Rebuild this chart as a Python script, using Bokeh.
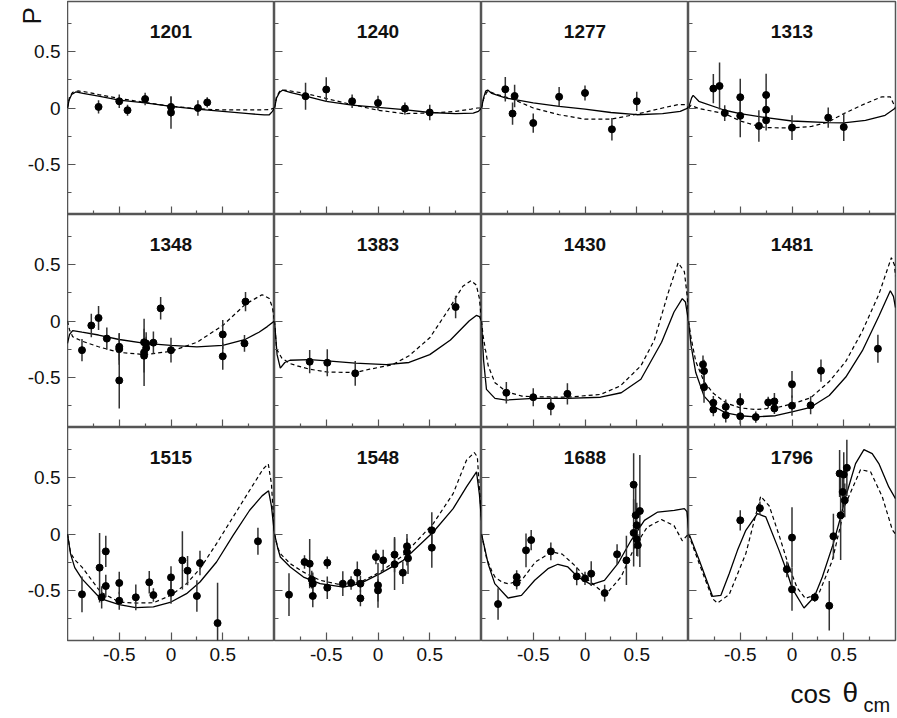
import math
from bokeh.plotting import figure
from bokeh.layouts import gridplot, column
from bokeh.models import FixedTicker, Label, ColumnDataSource, CustomJSTickFormatter, Range1d
from bokeh.core.properties import value
from bokeh.embed import file_html
from bokeh.resources import INLINE

FONT = "Liberation Sans"
GREY = "#555555"

# ---------------- data ----------------
ENERGIES = ["1201", "1240", "1277", "1313", "1348", "1383", "1430", "1481",
            "1515", "1548", "1688", "1796"]
TICKS = [-0.5, 0.0, 0.5]
MINOR_TICKS = [-0.75, -0.25, 0.25, 0.75]
Y_TITLE = "P"
X_TITLE_A = "cos"
X_TITLE_B = "θ"
X_TITLE_SUB = "cm"

# 1201
x_1201 = [-0.70, -0.50, -0.42, -0.25, 0.0, 0.0, 0.26, 0.35]
y_1201 = [0.01, 0.06, -0.02, 0.08, 0.01, -0.04, 0.00, 0.05]
e_1201 = [0.06, 0.06, 0.05, 0.055, 0.09, 0.144, 0.07, 0.045]
sx_1201 = [-1.0, -0.985, -0.96, -0.92, -0.85, -0.7, -0.5, -0.25, 0.0, 0.25, 0.5, 0.75, 0.9, 0.95, 0.98, 1.0]
sy_1201 = [0.0, 0.07, 0.12, 0.143, 0.13, 0.105, 0.07, 0.045, 0.015, -0.01, -0.03, -0.05, -0.062, -0.06, -0.03, 0.0]
dx_1201 = [-1.0, -0.98, -0.95, -0.9, -0.8, -0.7, -0.5, -0.25, 0.0, 0.25, 0.4, 0.6, 0.8, 0.95, 1.0]
dy_1201 = [0.0, 0.1, 0.14, 0.152, 0.14, 0.12, 0.085, 0.05, 0.015, -0.005, -0.015, -0.017, -0.017, -0.015, 0.0]

# 1240
x_1240 = [-0.70, -0.50, -0.25, 0.0, 0.26, 0.50]
y_1240 = [0.105, 0.165, 0.06, 0.045, -0.005, -0.04]
e_1240 = [0.12, 0.11, 0.06, 0.065, 0.055, 0.07]
sx_1240 = [-1.0, -0.98, -0.95, -0.92, -0.85, -0.7, -0.5, -0.25, 0.0, 0.25, 0.5, 0.75, 0.92, 0.97, 1.0]
sy_1240 = [0.0, 0.09, 0.14, 0.16, 0.14, 0.105, 0.06, 0.025, 0.005, -0.015, -0.04, -0.05, -0.045, -0.03, 0.0]
dx_1240 = [-1.0, -0.98, -0.95, -0.9, -0.8, -0.7, -0.5, -0.25, 0.0, 0.25, 0.5, 0.75, 0.9, 0.96, 1.0]
dy_1240 = [0.0, 0.1, 0.15, 0.16, 0.145, 0.13, 0.085, 0.03, -0.02, -0.05, -0.045, -0.03, -0.01, 0.0, 0.0]

# 1277
x_1277 = [-0.77, -0.70, -0.68, -0.50, -0.25, 0.0, 0.26, 0.50]
y_1277 = [0.167, -0.05, 0.107, -0.134, 0.10, 0.134, -0.19, 0.06]
e_1277 = [0.11, 0.10, 0.10, 0.086, 0.087, 0.067, 0.10, 0.086]
sx_1277 = [-1.0, -0.98, -0.96, -0.94, -0.9, -0.77, -0.5, -0.25, 0.0, 0.25, 0.5, 0.75, 0.92, 0.97, 1.0]
sy_1277 = [0.0, 0.09, 0.15, 0.16, 0.13, 0.09, 0.045, 0.015, -0.01, -0.04, -0.06, -0.05, -0.03, -0.01, 0.0]
dx_1277 = [-1.0, -0.98, -0.95, -0.93, -0.85, -0.7, -0.5, -0.25, 0.0, 0.25, 0.5, 0.75, 0.9, 0.96, 1.0]
dy_1277 = [0.0, 0.08, 0.14, 0.15, 0.12, 0.08, 0.0, -0.06, -0.1, -0.1, -0.055, 0.0, 0.03, 0.03, 0.0]

# 1313
x_1313 = [-0.76, -0.70, -0.65, -0.50, -0.50, -0.32, -0.25, -0.25, -0.25, 0.0, 0.35, 0.50]
y_1313 = [0.173, 0.196, -0.045, 0.096, -0.07, -0.16, 0.116, -0.015, -0.11, -0.175, -0.086, -0.17]
e_1313 = [0.13, 0.21, 0.07, 0.165, 0.19, 0.14, 0.19, 0.1, 0.09, 0.11, 0.09, 0.125]
sx_1313 = [-1.0, -0.97, -0.955, -0.9, -0.65, -0.5, -0.25, 0.0, 0.35, 0.5, 0.71, 0.9, 1.0]
sy_1313 = [0.0, 0.09, 0.113, 0.06, -0.02, -0.05, -0.086, -0.116, -0.13, -0.133, -0.11, -0.065, 0.0]
dx_1313 = [-1.0, -0.976, -0.9, -0.65, -0.5, -0.32, -0.25, 0.0, 0.19, 0.35, 0.5, 0.71, 0.87, 0.95, 0.98, 1.0]
dy_1313 = [0.0, 0.024, -0.005, -0.05, -0.116, -0.164, -0.175, -0.178, -0.164, -0.125, -0.05, 0.04, 0.1, 0.1, 0.04, 0.0]

# 1348
x_1348 = [-0.86, -0.77, -0.70, -0.62, -0.50, -0.50, -0.50, -0.26, -0.26, -0.26, -0.24, -0.24, -0.17, -0.10, 0.0, 0.50, 0.50, 0.72, 0.71]
y_1348 = [-0.26, -0.04, 0.027, -0.157, -0.23, -0.25, -0.53, -0.19, -0.28, -0.31, -0.20, -0.24, -0.193, 0.113, -0.26, -0.12, -0.315, 0.173, -0.20]
e_1348 = [0.1, 0.105, 0.107, 0.1, 0.12, 0.14, 0.25, 0.12, 0.3, 0.15, 0.1, 0.1, 0.1, 0.1, 0.11, 0.13, 0.12, 0.085, 0.075]
sx_1348 = [-1.0, -0.98, -0.95, -0.86, -0.7, -0.5, -0.25, 0.0, 0.25, 0.5, 0.72, 0.85, 0.93, 1.0]
sy_1348 = [-0.2, -0.12, -0.085, -0.1, -0.125, -0.165, -0.2, -0.217, -0.23, -0.217, -0.163, -0.1, -0.05, 0.0]
dx_1348 = [-1.0, -0.98, -0.95, -0.86, -0.7, -0.62, -0.5, -0.25, 0.0, 0.25, 0.5, 0.72, 0.88, 0.95, 0.98, 1.0]
dy_1348 = [0.0, -0.08, -0.14, -0.18, -0.23, -0.25, -0.28, -0.3, -0.27, -0.19, -0.04, 0.15, 0.235, 0.2, 0.12, 0.0]

# 1383
x_1383 = [-0.66, -0.49, -0.22, 0.75]
y_1383 = [-0.363, -0.372, -0.467, 0.125]
e_1383 = [0.104, 0.12, 0.11, 0.1]
sx_1383 = [-1.0, -0.975, -0.944, -0.9, -0.85, -0.66, -0.49, -0.22, 0.08, 0.3, 0.5, 0.7, 0.88, 0.95, 0.98, 1.0]
sy_1383 = [0.0, -0.3, -0.42, -0.37, -0.35, -0.345, -0.355, -0.375, -0.39, -0.37, -0.3, -0.17, 0.0, 0.05, 0.04, 0.0]
dx_1383 = [-1.0, -0.98, -0.93, -0.85, -0.78, -0.66, -0.49, -0.22, -0.08, 0.14, 0.3, 0.5, 0.68, 0.82, 0.9, 0.95, 0.98, 1.0]
dy_1383 = [0.0, -0.25, -0.33, -0.38, -0.4, -0.43, -0.455, -0.46, -0.43, -0.39, -0.31, -0.15, 0.1, 0.31, 0.36, 0.32, 0.2, 0.0]

# 1430
x_1430 = [-0.76, -0.50, -0.33, -0.17]
y_1430 = [-0.64, -0.68, -0.76, -0.65]
e_1430 = [0.095, 0.08, 0.08, 0.095]
sx_1430 = [-1.0, -0.98, -0.952, -0.87, -0.76, -0.5, -0.17, 0.15, 0.35, 0.54, 0.74, 0.86, 0.94, 0.97, 1.0]
sy_1430 = [0.0, -0.35, -0.61, -0.69, -0.705, -0.69, -0.69, -0.68, -0.64, -0.52, -0.19, 0.08, 0.2, 0.17, 0.0]
dx_1430 = [-1.0, -0.985, -0.935, -0.87, -0.76, -0.61, -0.5, -0.17, 0.15, 0.34, 0.54, 0.67, 0.8, 0.9, 0.96, 0.99, 1.0]
dy_1430 = [0.0, -0.13, -0.4, -0.55, -0.63, -0.67, -0.675, -0.68, -0.655, -0.58, -0.4, -0.17, 0.24, 0.52, 0.44, 0.2, 0.0]

# 1481
x_1481 = [-0.86, -0.85, -0.85, -0.76, -0.76, -0.64, -0.64, -0.50, -0.50, -0.35, -0.23, -0.17, -0.17, 0.0, 0.0, 0.18, 0.28, 0.83]
y_1481 = [-0.387, -0.446, -0.59, -0.73, -0.79, -0.765, -0.84, -0.72, -0.85, -0.857, -0.726, -0.717, -0.78, -0.565, -0.755, -0.752, -0.443, -0.247]
e_1481 = [0.08, 0.1, 0.14, 0.06, 0.06, 0.065, 0.065, 0.075, 0.07, 0.05, 0.05, 0.075, 0.05, 0.12, 0.09, 0.08, 0.1, 0.125]
sx_1481 = [-1.0, -0.975, -0.93, -0.85, -0.76, -0.64, -0.5, -0.35, -0.16, 0.0, 0.18, 0.36, 0.52, 0.68, 0.84, 0.95, 0.98, 1.0]
sy_1481 = [0.0, -0.22, -0.46, -0.67, -0.76, -0.82, -0.845, -0.855, -0.845, -0.81, -0.77, -0.665, -0.5, -0.265, 0.045, 0.27, 0.22, 0.12]
dx_1481 = [-1.0, -0.975, -0.93, -0.85, -0.76, -0.64, -0.5, -0.35, -0.16, 0.0, 0.18, 0.36, 0.52, 0.68, 0.84, 0.96, 0.99, 1.0]
dy_1481 = [0.0, -0.15, -0.36, -0.54, -0.645, -0.73, -0.775, -0.79, -0.775, -0.74, -0.685, -0.54, -0.36, -0.09, 0.24, 0.565, 0.5, 0.4]

# 1515
x_1515 = [-0.86, -0.69, -0.67, -0.63, -0.63, -0.50, -0.50, -0.34, -0.21, -0.17, 0.0, 0.0, 0.11, 0.16, 0.25, 0.28, 0.45, 0.84]
y_1515 = [-0.538, -0.30, -0.565, -0.155, -0.464, -0.437, -0.595, -0.565, -0.431, -0.545, -0.387, -0.523, -0.235, -0.327, -0.553, -0.259, -0.795, -0.065]
e_1515 = [0.16, 0.31, 0.1, 0.14, 0.1, 0.1, 0.08, 0.115, 0.1, 0.06, 0.1, 0.1, 0.26, 0.13, 0.14, 0.11, 0.36, 0.12]
sx_1515 = [-1.0, -0.97, -0.93, -0.86, -0.68, -0.5, -0.34, -0.17, 0.0, 0.15, 0.28, 0.44, 0.6, 0.76, 0.88, 0.943, 0.97, 1.0]
sy_1515 = [0.0, -0.18, -0.3, -0.4, -0.577, -0.63, -0.657, -0.65, -0.607, -0.532, -0.428, -0.25, -0.012, 0.212, 0.34, 0.385, 0.25, 0.0]
dx_1515 = [-1.0, -0.97, -0.93, -0.86, -0.68, -0.5, -0.34, -0.17, 0.0, 0.15, 0.28, 0.44, 0.6, 0.76, 0.89, 0.94, 0.97, 1.0]
dy_1515 = [0.0, -0.17, -0.23, -0.295, -0.518, -0.607, -0.616, -0.613, -0.547, -0.443, -0.31, -0.086, 0.152, 0.39, 0.58, 0.625, 0.45, 0.0]

# 1548
x_1548 = [-0.86, -0.71, -0.66, -0.64, -0.63, -0.63, -0.49, -0.49, -0.34, -0.26, -0.20, -0.17, -0.17, -0.02, 0.0, 0.0, 0.05, 0.16, 0.16, 0.24, 0.28, 0.28, 0.29, 0.52, 0.52]
y_1548 = [-0.541, -0.25, -0.265, -0.407, -0.443, -0.553, -0.256, -0.479, -0.443, -0.437, -0.345, -0.443, -0.574, -0.205, -0.458, -0.503, -0.235, -0.184, -0.27, -0.345, -0.11, -0.16, -0.217, 0.033, -0.122]
e_1548 = [0.19, 0.06, 0.22, 0.08, 0.1, 0.1, 0.055, 0.1, 0.11, 0.06, 0.1, 0.07, 0.07, 0.065, 0.2, 0.1, 0.095, 0.157, 0.23, 0.1, 0.11, 0.12, 0.14, 0.16, 0.18]
sx_1548 = [-1.0, -0.97, -0.944, -0.848, -0.72, -0.559, -0.334, -0.173, 0.02, 0.245, 0.534, 0.726, 0.855, 0.952, 0.98, 1.0]
sy_1548 = [0.0, -0.12, -0.205, -0.295, -0.384, -0.443, -0.473, -0.443, -0.354, -0.235, 0.018, 0.227, 0.42, 0.554, 0.35, 0.12]
dx_1548 = [-1.0, -0.97, -0.944, -0.848, -0.72, -0.559, -0.334, -0.173, 0.02, 0.245, 0.534, 0.726, 0.855, 0.93, 0.96, 0.98, 1.0]
dy_1548 = [0.0, -0.12, -0.175, -0.265, -0.34, -0.413, -0.458, -0.43, -0.34, -0.19, 0.093, 0.36, 0.658, 0.727, 0.688, 0.4, 0.15]

# 1688
x_1688 = [-0.84, -0.66, -0.66, -0.57, -0.52, -0.33, -0.08, 0.0, 0.06, 0.19, 0.31, 0.40, 0.47, 0.47, 0.49, 0.50, 0.50, 0.51, 0.53]
y_1688 = [-0.625, -0.384, -0.434, -0.146, -0.054, -0.155, -0.378, -0.396, -0.354, -0.527, -0.181, -0.235, 0.44, 0.01, 0.167, 0.078, -0.047, -0.10, 0.205]
e_1688 = [0.14, 0.06, 0.06, 0.15, 0.09, 0.08, 0.08, 0.06, 0.11, 0.075, 0.09, 0.22, 0.28, 0.3, 0.25, 0.2, 0.15, 0.1, 0.5]
sx_1688 = [-1.0, -0.936, -0.872, -0.744, -0.614, -0.486, -0.358, -0.262, -0.165, -0.069, 0.06, 0.188, 0.317, 0.446, 0.574, 0.703, 0.863, 0.96, 0.985, 1.0]
sy_1688 = [0.0, -0.265, -0.443, -0.571, -0.547, -0.413, -0.309, -0.27, -0.294, -0.384, -0.452, -0.413, -0.265, -0.056, 0.122, 0.196, 0.211, 0.227, 0.2, 0.05]
dx_1688 = [-1.0, -0.95, -0.9, -0.87, -0.8, -0.74, -0.61, -0.48, -0.32, -0.22, -0.1, 0.03, 0.16, 0.22, 0.35, 0.48, 0.6, 0.74, 0.86, 0.94, 1.0]
dy_1688 = [0.0, -0.22, -0.33, -0.384, -0.43, -0.445, -0.41, -0.25, -0.16, -0.18, -0.28, -0.41, -0.51, -0.52, -0.38, -0.115, 0.06, 0.128, 0.075, -0.06, 0.0]

# 1796
x_1796 = [-0.50, -0.31, -0.05, 0.0, 0.0, 0.22, 0.36, 0.40, 0.46, 0.47, 0.49, 0.50, 0.51, 0.53]
y_1796 = [0.122, 0.23, -0.315, -0.032, -0.494, -0.565, -0.64, -0.02, 0.54, 0.167, 0.375, 0.53, 0.30, 0.59]
e_1796 = [0.09, 0.06, 0.07, 0.27, 0.19, 0.04, 0.22, 0.2, 0.21, 0.4, 0.15, 0.2, 0.15, 0.25]
sx_1796 = [-1.0, -0.99, -0.896, -0.768, -0.687, -0.607, -0.527, -0.446, -0.334, -0.253, -0.125, -0.054, 0.003, 0.116, 0.215, 0.293, 0.399, 0.47, 0.518, 0.614, 0.695, 0.775, 0.839, 0.935, 1.0]
sy_1796 = [0.0, -0.01, -0.235, -0.556, -0.547, -0.354, -0.146, 0.033, 0.182, 0.152, -0.146, -0.324, -0.488, -0.66, -0.5625, -0.384, -0.086, 0.152, 0.33, 0.628, 0.753, 0.717, 0.628, 0.42, 0.316]
dx_1796 = [-1.0, -0.99, -0.896, -0.768, -0.72, -0.607, -0.446, -0.37, -0.302, -0.22, -0.125, -0.03, 0.05, 0.13, 0.26, 0.39, 0.518, 0.663, 0.76, 0.873, 0.97, 1.0]
dy_1796 = [0.0, -0.027, -0.265, -0.577, -0.616, -0.54, -0.175, 0.1, 0.337, 0.25, -0.01, -0.29, -0.48, -0.575, -0.53, -0.235, 0.27, 0.575, 0.554, 0.33, 0.036, 0.0]

PANELS = [
    (x_1201, y_1201, e_1201, sx_1201, sy_1201, dx_1201, dy_1201),
    (x_1240, y_1240, e_1240, sx_1240, sy_1240, dx_1240, dy_1240),
    (x_1277, y_1277, e_1277, sx_1277, sy_1277, dx_1277, dy_1277),
    (x_1313, y_1313, e_1313, sx_1313, sy_1313, dx_1313, dy_1313),
    (x_1348, y_1348, e_1348, sx_1348, sy_1348, dx_1348, dy_1348),
    (x_1383, y_1383, e_1383, sx_1383, sy_1383, dx_1383, dy_1383),
    (x_1430, y_1430, e_1430, sx_1430, sy_1430, dx_1430, dy_1430),
    (x_1481, y_1481, e_1481, sx_1481, sy_1481, dx_1481, dy_1481),
    (x_1515, y_1515, e_1515, sx_1515, sy_1515, dx_1515, dy_1515),
    (x_1548, y_1548, e_1548, sx_1548, sy_1548, dx_1548, dy_1548),
    (x_1688, y_1688, e_1688, sx_1688, sy_1688, dx_1688, dy_1688),
    (x_1796, y_1796, e_1796, sx_1796, sy_1796, dx_1796, dy_1796),
]

# ---------------- layout ----------------
FW, FH = 207, 213
LEFT, TOP, BOTTOM = 67, 1, 32
STRIP_H = 46
TOTAL_W = 897
X0, X1 = -1.0, 1.0
Y0, Y1 = -0.95, 0.95

shown_fmt = "return (Math.abs(tick) < 1e-9) ? '0' : tick.toFixed(1);"
hidden_fmt = "return '';"


def base_fig(fw, fh, xr, yr, **kw):
    p = figure(frame_width=fw, frame_height=fh, x_range=xr, y_range=yr,
               output_backend="svg", toolbar_location=None, min_border=0, **kw)
    p.background_fill_color = "white"
    p.border_fill_color = "white"
    return p


def style_ticks(ax):
    ax.ticker = FixedTicker(ticks=TICKS, minor_ticks=MINOR_TICKS)
    ax.axis_line_color = None
    ax.major_tick_line_color = GREY
    ax.minor_tick_line_color = GREY
    ax.major_tick_line_width = 1.2
    ax.minor_tick_line_width = 1.2


def show_labels(ax):
    ax.formatter = CustomJSTickFormatter(code=shown_fmt)
    ax.major_label_text_font = FONT
    ax.major_label_text_font_size = "19px"
    ax.major_label_text_color = "#111111"
    ax.major_label_standoff = 7


def hide_labels(ax, loc):
    ax.formatter = CustomJSTickFormatter(code=hidden_fmt)
    ax.major_label_text_font_size = "0px"
    ax.major_label_standoff = 0
    ax.fixed_location = loc


rows = []
for i, name in enumerate(ENERGIES):
    r, c = divmod(i, 4)
    px, py, pe, sx, sy, dx, dy = PANELS[i]

    if c == 0:
        # left strip carrying the y tick labels (and the "P" title on top row)
        s = base_fig(LEFT, FH, Range1d(0, LEFT), Range1d(Y0, Y1), x_axis_type=None)
        s.min_border_top = TOP if r == 0 else 0
        s.min_border_bottom = BOTTOM if r == 2 else 0
        s.outline_line_color = None
        s.xgrid.visible = False
        s.ygrid.visible = False
        ya = s.yaxis[0]
        style_ticks(ya)
        ya.major_tick_in = 0
        ya.major_tick_out = 0
        ya.minor_tick_in = 0
        ya.minor_tick_out = 0
        show_labels(ya)
        ya.fixed_location = LEFT
        if r == 0:
            s.text(x=[31], y=[0.899], text=[Y_TITLE], angle=math.pi / 2,
                   text_align="right", text_baseline="alphabetic",
                   text_font=value(FONT), text_font_size="26px",
                   text_color="#111111")
        rows.append([s])

    p = base_fig(FW, FH, Range1d(X0, X1), Range1d(Y0, Y1))
    p.min_border_top = TOP if r == 0 else 0
    p.min_border_bottom = BOTTOM if r == 2 else 0
    p.min_border_right = 2 if c == 3 else 0
    p.outline_line_color = GREY
    p.outline_line_width = 1.5
    p.xgrid.visible = False
    p.ygrid.visible = False
    for ax in (p.xaxis[0], p.yaxis[0]):
        style_ticks(ax)
        ax.major_tick_in = 8
        ax.major_tick_out = 0
        ax.minor_tick_in = 4
        ax.minor_tick_out = 0
    if r == 2:
        show_labels(p.xaxis[0])
    else:
        hide_labels(p.xaxis[0], Y0)
    hide_labels(p.yaxis[0], X0)

    p.line(sx, sy, line_color="black", line_width=1.3)
    p.line(dx, dy, line_color="black", line_width=1.2, line_dash="4 3")

    src = ColumnDataSource(dict(
        x=px, y=py,
        lo=[a - b for a, b in zip(py, pe)],
        hi=[a + b for a, b in zip(py, pe)],
    ))
    p.segment(x0="x", y0="lo", x1="x", y1="hi", source=src,
              line_color="#333333", line_width=1.5)
    p.scatter(x="x", y="y", source=src, size=7, fill_color="black",
              line_color="black", marker="circle")

    p.add_layout(Label(x=0.0, y=0.68, text=name, text_align="center",
                       text_baseline="middle", text_font=FONT,
                       text_font_style="bold", text_font_size="19px",
                       text_color="#111111"))
    rows[-1].append(p)

grid = gridplot(rows, toolbar_location=None)

# bottom strip with the x-axis title (page pixel coordinates, y downward)
b = base_fig(TOTAL_W, STRIP_H, Range1d(0, TOTAL_W), Range1d(718, 718 - STRIP_H),
             x_axis_type=None, y_axis_type=None)
b.outline_line_color = None
b.xgrid.visible = False
b.ygrid.visible = False
b.text(x=[790], y=[693], text=[X_TITLE_A], text_align="left",
       text_baseline="middle", text_font=value(FONT),
       text_font_size="26px", text_color="#111111")
b.text(x=[842], y=[692], text=[X_TITLE_B], text_align="left",
       text_baseline="middle", text_font=value(FONT),
       text_font_size="28px", text_color="#111111")
b.text(x=[863], y=[704], text=[X_TITLE_SUB], text_align="left",
       text_baseline="middle", text_font=value(FONT),
       text_font_size="20px", text_color="#111111")

layout = column(grid, b)
open("out.html", "w").write(file_html(layout, INLINE))
